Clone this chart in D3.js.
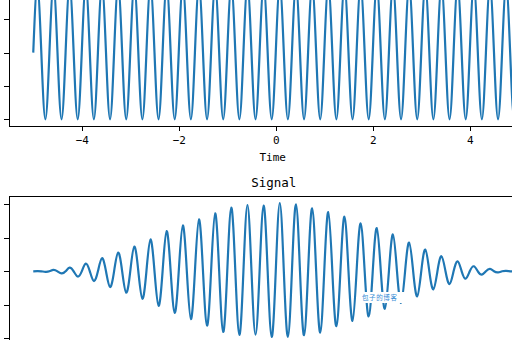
<!DOCTYPE html>
<html lang="en">
<head>
<meta charset="utf-8">
<title>Signal</title>
<script src="https://cdn.jsdelivr.net/npm/d3@7"></script>
<style>
  body { margin: 0; background: #fff; }
  svg { display: block; font-family: "DejaVu Sans Mono", "Liberation Mono", monospace; }
  .axis path, .axis line { stroke: #000; stroke-width: 1; shape-rendering: crispEdges; }
  .axis text { font-size: 11px; fill: #000; font-family: "DejaVu Sans Mono", monospace; }
  .trace { fill: none; stroke: #1f77b4; stroke-width: 2.2; }
</style>
</head>
<body>
<script>
// sampled every 1/12 s from -5 to 5 (zeros and extrema of the wave)
var tStart = -5, tStep = 1 / 12;

var carrier = [
  0, 1, 0, -1, 0, 1, 0, -1, 0, 1, 0, -1,
  0, 1, 0, -1, 0, 1, 0, -1, 0, 1, 0, -1,
  0, 1, 0, -1, 0, 1, 0, -1, 0, 1, 0, -1,
  0, 1, 0, -1, 0, 1, 0, -1, 0, 1, 0, -1,
  0, 1, 0, -1, 0, 1, 0, -1, 0, 1, 0, -1,
  0, 1, 0, -1, 0, 1, 0, -1, 0, 1, 0, -1,
  0, 1, 0, -1, 0, 1, 0, -1, 0, 1, 0, -1,
  0, 1, 0, -1, 0, 1, 0, -1, 0, 1, 0, -1,
  0, 1, 0, -1, 0, 1, 0, -1, 0, 1, 0, -1,
  0, 1, 0, -1, 0, 1, 0, -1, 0, 1, 0, -1,
  0
];

var signal = [
  0, 0.003, 0, -0.008, 0, 0.022, 0, -0.032, 0, 0.055, 0, -0.078,
  0, 0.115, 0, -0.145, 0, 0.195, 0, -0.235, 0, 0.28, 0, -0.32,
  0, 0.37, 0, -0.41, 0, 0.475, 0, -0.515, 0, 0.60, 0, -0.62,
  0, 0.685, 0, -0.715, 0, 0.775, 0, -0.81, 0, 0.865, 0, -0.905,
  0, 0.95, 0, -0.95, 0, 0.99, 0, -0.945, 0, 0.98, 0, -0.98,
  0, 1.02, 0, -0.98, 0, 1.0, 0, -0.955, 0, 0.94, 0, -0.915,
  0, 0.885, 0, -0.82, 0, 0.815, 0, -0.74, 0, 0.715, 0, -0.675,
  0, 0.645, 0, -0.56, 0, 0.55, 0, -0.47, 0, 0.43, 0, -0.375,
  0, 0.325, 0, -0.27, 0, 0.225, 0, -0.19, 0, 0.15, 0, -0.11,
  0, 0.075, 0, -0.05, 0, 0.035, 0, -0.015, 0, 0.006, 0, -0.002,
  0
];

var xTicks = [-4, -2, 0, 2, 4];
var yTicks = [-1, -0.5, 0, 0.5, 1];

var width = 512, height = 340;

var svg = d3.select("body").append("svg")
    .attr("width", width)
    .attr("height", height);

// both panels share the time axis
var x = d3.scaleLinear().domain([-5.5, 5.5]).range([9, 542.5]);

var yTop = d3.scaleLinear().domain([-1.1, 1.1]).range([126, -20.7]);
var yBot = d3.scaleLinear().domain([-1.09, 1.12]).range([344.3, 196.3]);

function line(y) {
  return d3.line()
    .x(function(d, i) { return x(tStart + i * tStep); })
    .y(function(d) { return y(d); })
    .curve(d3.curveNatural);
}

// ---- top panel
var gTop = svg.append("g");

gTop.append("path")
    .datum(carrier)
    .attr("class", "trace")
    .attr("d", line(yTop));

gTop.append("g")
    .attr("class", "axis")
    .attr("transform", "translate(0," + yTop.range()[0] + ")")
    .call(d3.axisBottom(x).tickValues(xTicks).tickSize(5).tickSizeOuter(0).tickPadding(5));

gTop.append("g")
    .attr("class", "axis")
    .attr("transform", "translate(" + x.range()[0] + ",0)")
    .call(d3.axisLeft(yTop).tickValues(yTicks).tickSize(5).tickSizeOuter(0).tickFormat(""));

gTop.append("text")
    .attr("x", (x.range()[0] + x.range()[1]) / 2 - 3)
    .attr("y", 161)
    .attr("text-anchor", "middle")
    .style("font-size", "11px")
    .text("Time");

// ---- bottom panel
var gBot = svg.append("g");

gBot.append("path")
    .datum(signal)
    .attr("class", "trace")
    .attr("d", line(yBot));

gBot.append("g")
    .attr("class", "axis")
    .attr("transform", "translate(" + x.range()[0] + ",0)")
    .call(d3.axisLeft(yBot).tickValues(yTicks).tickSize(5).tickSizeOuter(0).tickFormat(""));

gBot.append("line")
    .attr("x1", x.range()[0]).attr("x2", x.range()[1])
    .attr("y1", yBot.range()[1]).attr("y2", yBot.range()[1])
    .attr("stroke", "#000")
    .attr("shape-rendering", "crispEdges");

gBot.append("text")
    .attr("x", (x.range()[0] + x.range()[1]) / 2 - 2)
    .attr("y", 187)
    .attr("text-anchor", "middle")
    .style("font-size", "12.5px")
    .text("Signal");

// watermark stamp
var wm = svg.append("g").attr("transform", "translate(361,292)");
wm.append("rect").attr("width", 44).attr("height", 11).attr("fill", "#fff");
wm.append("text")
    .attr("x", 1).attr("y", 8)
    .attr("fill", "#3b8ed6")
    .style("font-family", "'Noto Sans CJK SC', sans-serif")
    .style("font-size", "6.5px")
    .style("letter-spacing", "0.6px")
    .text("包子的博客");
</script>
</body>
</html>
